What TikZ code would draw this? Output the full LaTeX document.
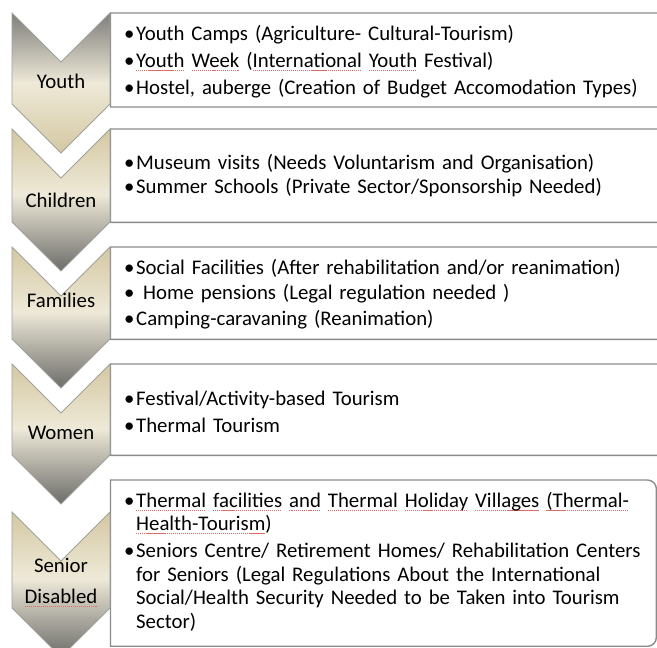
\documentclass[tikz,border=0pt]{standalone}
\usepackage{fontspec}
\setmainfont{Carlito}
\usepackage{xcolor}
\usepackage{tikz}
\usetikzlibrary{positioning}

\definecolor{chgray}{HTML}{7E7E7A}
\definecolor{chcream}{HTML}{EEE9D8}
\definecolor{chtan}{HTML}{D4C8A2}
\definecolor{chdark}{HTML}{6C6C69}
\definecolor{boxline}{HTML}{8A8A8A}
\definecolor{chline}{HTML}{A0A09C}
\definecolor{spellred}{HTML}{E06A66}

\pgfdeclareverticalshading{chevfirst}{100bp}{color(0bp)=(chtan); color(25bp)=(chtan); color(50bp)=(chcream); color(75bp)=(chgray); color(100bp)=(chgray)}
\pgfdeclareverticalshading{chevrest}{100bp}{color(0bp)=(chdark); color(25bp)=(chdark); color(52bp)=(chcream); color(75bp)=(chtan); color(100bp)=(chtan)}

\newcommand{\itm}[1]{\par\noindent\hangindent=12pt\hangafter=1\makebox[12pt][l]{\textbullet}#1}
\newcommand{\itmend}[1][9pt]{\par\kern#1}
\newcommand{\spellmark}[1]{\leavevmode\setbox0\hbox{#1}%
  \rlap{\hbox to \wd0{\color{spellred}\xleaders\hbox{\rule[-3.2pt]{1.2pt}{0.8pt}\hspace{0.8pt}}\hfill}}\box0\relax}

% chevron: top y, side bottom y, shading
\newcommand{\chevpath}[3]{%
  \path[chev, shading=#3] (12,-#1) -- (61,-#1-49) -- (110,-#1) -- (110,-#2) -- (61,-#2-49) -- (12,-#2) -- cycle;}

% box outline, rounded on the right
\newcommand{\boxoutline}[1]{%
  \draw[boxedge] (#1.south west) -- (#1.north west) -- ([xshift=-9pt]#1.north east)
    arc[start angle=90, end angle=0, radius=9pt] -- ([yshift=9pt]#1.south east)
    arc[start angle=0, end angle=-90, radius=9pt] -- cycle;}

\tikzset{
  basefont/.style={font=\fontsize{20.8pt}{23.5pt}\selectfont},
  itembox/.style={basefont, anchor=north west, inner xsep=13.5pt, inner ysep=0pt,
    align=left, text width=#1},
  boxedge/.style={draw=boxline, line width=1.4pt},
  chev/.style={draw=chline, line width=0.8pt},
  chevlabel/.style={basefont, inner sep=0pt, align=center}
}

\begin{document}
\begin{tikzpicture}[x=1pt, y=1pt]
  \useasboundingbox (0,0) rectangle (657,-648);
  \clip (0,0) rectangle (657,-648);

  % Define boxes
  \node[itembox=535pt, minimum height=91pt] (youthbox) at (110.5,-13)
    {\setlength\parskip{3.5pt}%
     \itm{Youth Camps (Agriculture- Cultural-Tourism)}
     \itm{\spellmark{Youth} \spellmark{Week} (\spellmark{International} \spellmark{Youth} Festival)}
     \itm{Hostel, auberge (Creation of Budget Accomodation Types)}\itmend};
  \node[itembox=535pt, minimum height=93pt] (childbox) at (110.5,-129)
    {\setlength\parskip{0pt}%
     \itm{Museum visits (Needs Voluntarism and Organisation)}
     \itm{Summer Schools (Private Sector/Sponsorship Needed)}\itmend};
  \node[itembox=535pt, minimum height=92pt] (familybox) at (110.5,-247)
    {\setlength\parskip{2pt}%
     \itm{Social Facilities (After rehabilitation and/or reanimation)}
     \itm{\ Home pensions (Legal regulation needed )}
     \itm{Camping-caravaning (Reanimation)}\itmend};
  \node[itembox=535pt, minimum height=91pt] (womenbox) at (110.5,-364)
    {\setlength\parskip{3.5pt}%
     \itm{Festival/Activity-based Tourism}
     \itm{Thermal Tourism}\itmend};
  \node[itembox=518.5pt, minimum height=154pt] (seniorbox) at (110.5,-480)
    {\setlength\parskip{3.5pt}%
     \itm{\spellmark{Thermal} \spellmark{facilities} \spellmark{and} \spellmark{Thermal} \spellmark{Holiday} \spellmark{Villages} \spellmark{(Thermal-}\newline
       \spellmark{Health-Tourism})}
     \itm{Seniors Centre/ Retirement Homes/ Rehabilitation Centers\newline
       for Seniors (Legal Regulations About the International\newline
       Social/Health Security Needed to be Taken into Tourism\newline
       Sector)}\itmend[15pt]};

  \boxoutline{youthbox}
  \boxoutline{childbox}
  \boxoutline{familybox}
  \boxoutline{womenbox}
  \boxoutline{seniorbox}

  % Chevrons
  \chevpath{13}{104}{chevfirst}
  \chevpath{129}{222}{chevrest}
  \chevpath{247}{339}{chevrest}
  \chevpath{364}{455}{chevrest}
  \chevpath{512}{608}{chevrest}

  % Labels
  \node[chevlabel] (youth) at (61,-81) {Youth};
  \node[chevlabel] (children) at (61,-200) {Children};
  \node[chevlabel] (families) at (61,-300) {Families};
  \node[chevlabel] (women) at (61,-433) {Women};
  \node[chevlabel] (senior) at (61,-565) {Senior};
  \node[chevlabel] (disabled) at (61,-598) {\spellmark{Disabled}};

\end{tikzpicture}
\end{document}
